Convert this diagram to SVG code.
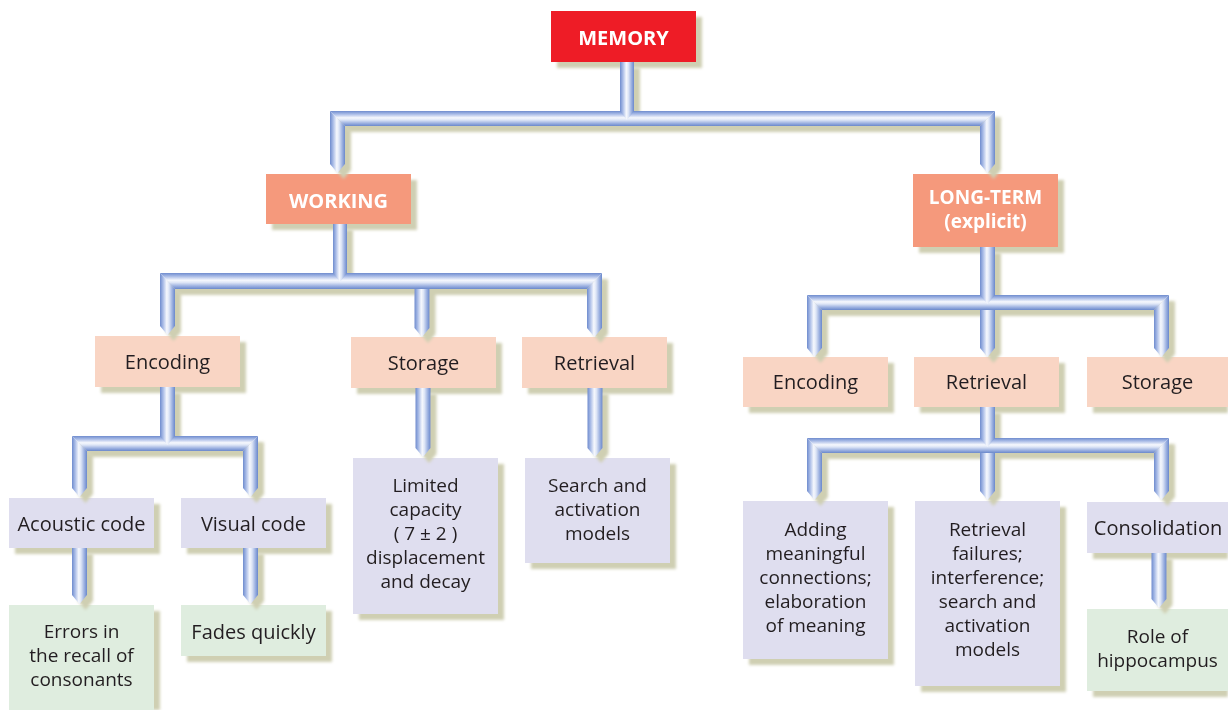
<svg xmlns="http://www.w3.org/2000/svg" width="1228" height="710" viewBox="0 0 1228 710">
<style>
  .t { font-family: "Open Sans", "Liberation Sans", sans-serif; font-size: 20px; fill: #231f20; text-anchor: middle; }
  .m { font-family: "Open Sans", "Liberation Sans", sans-serif; font-size: 19px; fill: #231f20; text-anchor: middle; }
  .h { font-family: "Open Sans", "Liberation Sans", sans-serif; font-size: 20px; font-weight: bold; fill: #ffffff; text-anchor: middle; }
  .hm { font-family: "Open Sans", "Liberation Sans", sans-serif; font-size: 19px; font-weight: bold; fill: #ffffff; text-anchor: middle; }
  .red { fill: #ee1f26; }
  .sal { fill: #f5997b; }
  .pea { fill: #f9d5c4; }
  .lav { fill: #dfdeef; }
  .grn { fill: #dfeddf; }
  .v { fill: url(#gv); }
  .hz { fill: url(#gh); }
</style>
<defs>
  <linearGradient id="gv" x1="0" y1="0" x2="1" y2="0">
    <stop offset="0" stop-color="#6f8cce"/>
    <stop offset="0.2" stop-color="#a7bae6"/>
    <stop offset="0.45" stop-color="#f6f8fd"/>
    <stop offset="0.6" stop-color="#dde5f6"/>
    <stop offset="0.82" stop-color="#9bb0e0"/>
    <stop offset="1" stop-color="#6a88cb"/>
  </linearGradient>
  <linearGradient id="gh" x1="0" y1="0" x2="0" y2="1">
    <stop offset="0" stop-color="#6f8cce"/>
    <stop offset="0.2" stop-color="#a7bae6"/>
    <stop offset="0.45" stop-color="#f6f8fd"/>
    <stop offset="0.6" stop-color="#dde5f6"/>
    <stop offset="0.82" stop-color="#9bb0e0"/>
    <stop offset="1" stop-color="#6a88cb"/>
  </linearGradient>
  <filter id="sh" filterUnits="userSpaceOnUse" x="0" y="0" width="1228" height="710">
    <feOffset in="SourceAlpha" dx="6" dy="6" result="o"/>
    <feGaussianBlur in="o" stdDeviation="1.6" result="b"/>
    <feFlood flood-color="#cfcfb2"/>
    <feComposite in2="b" operator="in" result="s"/>
    <feMerge><feMergeNode in="s"/><feMergeNode in="SourceGraphic"/></feMerge>
  </filter>
</defs>
<rect width="1228" height="710" fill="#ffffff"/>

<g id="nodes" filter="url(#sh)">
  <g id="memory"><rect class="red" x="551" y="11" width="145" height="51"/><text class="h" x="623.5" y="45">MEMORY</text></g>
  <g id="working"><rect class="sal" x="266" y="174" width="145" height="50"/><text class="h" x="338.5" y="208">WORKING</text></g>
  <g id="longterm"><rect class="sal" x="913" y="174" width="145" height="73"/><text class="hm" x="985.5" y="204">LONG-TERM</text><text class="hm" x="985.5" y="228">(explicit)</text></g>

  <g id="w-encoding"><rect class="pea" x="95" y="336" width="145" height="51"/><text class="t" x="167.5" y="369">Encoding</text></g>
  <g id="w-storage"><rect class="pea" x="351" y="337" width="145" height="51"/><text class="t" x="423.5" y="370">Storage</text></g>
  <g id="w-retrieval"><rect class="pea" x="522" y="337" width="145" height="51"/><text class="t" x="594.5" y="370">Retrieval</text></g>

  <g id="lt-encoding"><rect class="pea" x="743" y="357" width="145" height="50"/><text class="t" x="815.5" y="389">Encoding</text></g>
  <g id="lt-retrieval"><rect class="pea" x="914" y="357" width="145" height="50"/><text class="t" x="986.5" y="389">Retrieval</text></g>
  <g id="lt-storage"><rect class="pea" x="1087" y="357" width="145" height="50"/><text class="t" x="1157.5" y="389">Storage</text></g>

  <g id="acoustic"><rect class="lav" x="9" y="498" width="145" height="50"/><text class="t" x="81.5" y="531">Acoustic code</text></g>
  <g id="visual"><rect class="lav" x="181" y="498" width="145" height="50"/><text class="t" x="253.5" y="531">Visual code</text></g>
  <g id="limited"><rect class="lav" x="353" y="458" width="145" height="156"/>
    <text class="m" x="425.5" y="492">Limited</text><text class="m" x="425.5" y="516">capacity</text><text class="m" x="425.5" y="540">( 7 ± 2 )</text><text class="m" x="425.5" y="564">displacement</text><text class="m" x="425.5" y="588">and decay</text></g>
  <g id="search"><rect class="lav" x="525" y="458" width="145" height="105"/>
    <text class="m" x="597.5" y="492">Search and</text><text class="m" x="597.5" y="516">activation</text><text class="m" x="597.5" y="540">models</text></g>
  <g id="adding"><rect class="lav" x="743" y="501" width="145" height="158"/>
    <text class="m" x="815.5" y="536">Adding</text><text class="m" x="815.5" y="560">meaningful</text><text class="m" x="815.5" y="584">connections;</text><text class="m" x="815.5" y="608">elaboration</text><text class="m" x="815.5" y="632">of meaning</text></g>
  <g id="failures"><rect class="lav" x="915" y="501" width="145" height="185"/>
    <text class="m" x="987.5" y="536">Retrieval</text><text class="m" x="987.5" y="560">failures;</text><text class="m" x="987.5" y="584">interference;</text><text class="m" x="987.5" y="608">search and</text><text class="m" x="987.5" y="632">activation</text><text class="m" x="987.5" y="656">models</text></g>
  <g id="consolidation"><rect class="lav" x="1087" y="502" width="145" height="51"/><text class="t" x="1158" y="535">Consolidation</text></g>

  <g id="errors"><rect class="grn" x="9" y="605" width="145" height="110"/>
    <text class="m" x="81.5" y="638">Errors in</text><text class="m" x="81.5" y="662">the recall of</text><text class="m" x="81.5" y="686">consonants</text></g>
  <g id="fades"><rect class="grn" x="181" y="605" width="145" height="51"/><text class="t" x="253.5" y="639">Fades quickly</text></g>
  <g id="hippocampus"><rect class="grn" x="1087" y="609" width="145" height="82"/>
    <text class="m" x="1157.5" y="643">Role of</text><text class="m" x="1157.5" y="667">hippocampus</text></g>
</g>

<g id="connectors" filter="url(#sh)">
  <polygon class="hz" points="330,111 995,111 980,126 345,126"/>
  <polygon class="v" points="330,111 345,126 345,164 337.5,173 330,164"/>
  <polygon class="v" points="995,111 995,164 987.5,173 980,164 980,126"/>
  <polygon class="v" points="620,62 634,62 634,111 627,120 620,111"/>

  <polygon class="hz" points="160,273 602,273 587,289 175,289"/>
  <polygon class="v" points="160,273 175,289 175,326 167.5,335 160,326"/>
  <polygon class="v" points="414.5,289 429.5,289 429.5,328 422,337 414.5,328"/>
  <polygon class="v" points="602,273 602,328 594.5,337 587,328 587,289"/>
  <polygon class="v" points="333,224 347,224 347,273 340,282 333,273"/>

  <polygon class="hz" points="807,295 1169,295 1154,310 822,310"/>
  <polygon class="v" points="807,295 822,310 822,348 814.5,357 807,348"/>
  <polygon class="v" points="980,310 995,310 995,348 987.5,357 980,348"/>
  <polygon class="v" points="1169,295 1169,348 1161.5,357 1154,348 1154,310"/>
  <polygon class="v" points="980,247 995,247 995,295 987.5,304 980,295"/>

  <polygon class="hz" points="72,436 258,436 243,451 87,451"/>
  <polygon class="v" points="72,436 87,451 87,488 79.5,497 72,488"/>
  <polygon class="v" points="258,436 258,488 250.5,497 243,488 243,451"/>
  <polygon class="v" points="160,387 175,387 175,436 167.5,445 160,436"/>

  <polygon class="v" points="72,548 87,548 87,595 79.5,604 72,595"/>
  <polygon class="v" points="243,548 258,548 258,595 250.5,604 243,595"/>

  <polygon class="v" points="415.5,388 430.5,388 430.5,448 423,457 415.5,448"/>
  <polygon class="v" points="587.5,388 602.5,388 602.5,448 595,457 587.5,448"/>

  <polygon class="hz" points="807,438 1169,438 1154,453 822,453"/>
  <polygon class="v" points="807,438 822,453 822,491 814.5,500 807,491"/>
  <polygon class="v" points="980,453 995,453 995,491 987.5,500 980,491"/>
  <polygon class="v" points="1169,438 1169,491 1161.5,500 1154,491 1154,453"/>
  <polygon class="v" points="980,407 995,407 995,438 987.5,447 980,438"/>

  <polygon class="v" points="1151.5,553 1166.5,553 1166.5,599 1159,608 1151.5,599"/>
</g>
</svg>
